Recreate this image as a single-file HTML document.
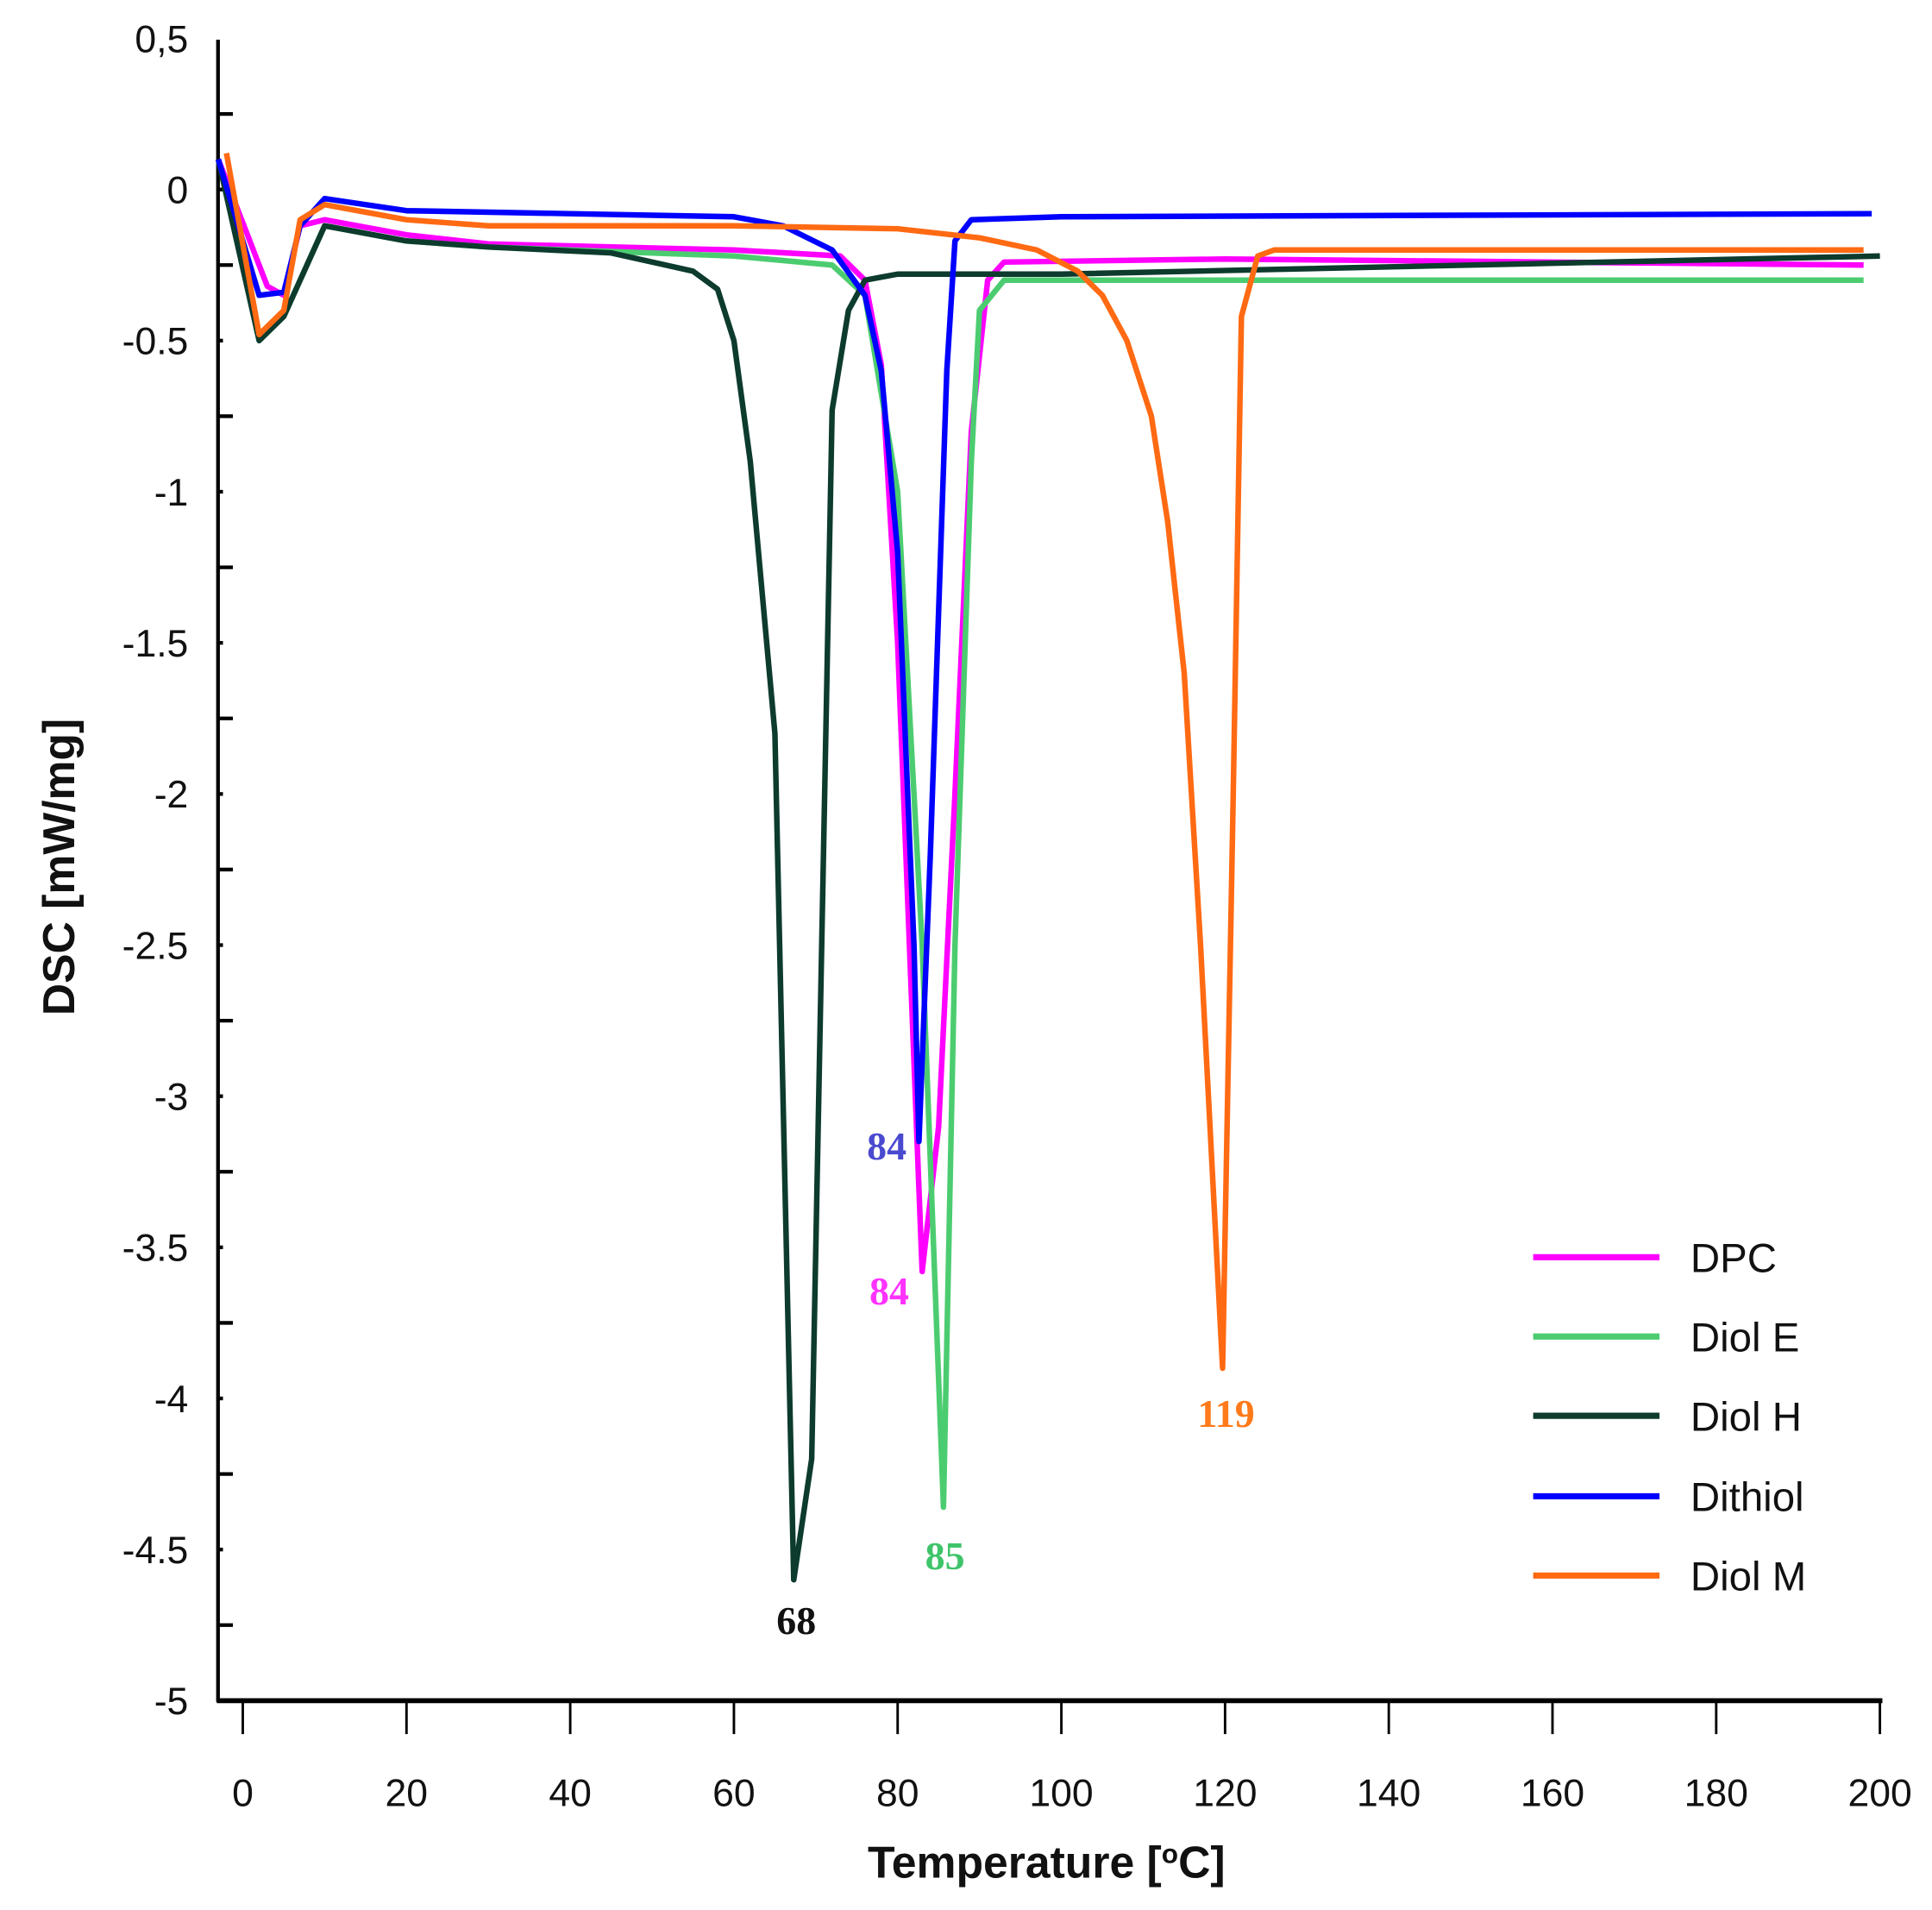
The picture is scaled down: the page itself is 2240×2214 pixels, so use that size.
<!DOCTYPE html>
<html><head><meta charset="utf-8">
<style>html,body{margin:0;padding:0;background:#fff}svg{display:block}</style>
</head><body>
<svg id="s" width="2240" height="2214" viewBox="0 0 1560 1542" xmlns="http://www.w3.org/2000/svg" font-family="Liberation Sans, sans-serif">
<rect width="1560" height="1542" fill="#fff"/>
<g id="ax" stroke="#000"></g>
<g id="lines" fill="none" stroke-width="4.5" stroke-linejoin="round"></g>
<g font-family="Liberation Serif, serif" font-weight="bold" font-size="32" text-anchor="middle">
<text x="716" y="936" fill="#4a4ad0">84</text>
<text x="718" y="1053" fill="#ff33ff">84</text>
<text x="763" y="1267" fill="#3fc46a">85</text>
<text x="643" y="1319" fill="#111">68</text>
<text x="990" y="1152" fill="#ff7a1a">119</text>
</g>
<g font-size="33" fill="#111">
<line x1="1238" y1="1015" x2="1340" y2="1015" stroke="#ff00ff" stroke-width="5"/><text x="1365" y="1027">DPC</text>
<line x1="1238" y1="1079" x2="1340" y2="1079" stroke="#4ccc70" stroke-width="5"/><text x="1365" y="1091">Diol E</text>
<line x1="1238" y1="1143" x2="1340" y2="1143" stroke="#0d3b2e" stroke-width="5"/><text x="1365" y="1155">Diol H</text>
<line x1="1238" y1="1208" x2="1340" y2="1208" stroke="#0000ff" stroke-width="5"/><text x="1365" y="1220">Dithiol</text>
<line x1="1238" y1="1272" x2="1340" y2="1272" stroke="#ff6a13" stroke-width="5"/><text x="1365" y="1284">Diol M</text>
</g>
<text x="845" y="1516" font-size="36" font-weight="bold" text-anchor="middle" fill="#111">Temperature [<tspan font-size="22" dy="-12">o</tspan><tspan dy="12">C]</tspan></text>
<text transform="translate(60,700) rotate(-90)" font-size="36" font-weight="bold" text-anchor="middle" fill="#111">DSC [mW/mg]</text>
</svg>
<script>
const X=t=>196+t*6.61, Y=v=>153-v*244;
const ns="http://www.w3.org/2000/svg";
const ax=document.getElementById('ax');
function el(tag,attrs,par,txt){const e=document.createElementNS(ns,tag);for(const k in attrs)e.setAttribute(k,attrs[k]);if(txt!==undefined)e.textContent=txt;par.appendChild(e);return e;}
el('line',{x1:176,y1:32,x2:176,y2:1374,'stroke-width':3},ax);
el('line',{x1:175,y1:1373,x2:1520,y2:1373,'stroke-width':4},ax);
const svg=document.getElementById('s');
for(let i=0;i<=22;i++){const v=0.5-i*0.25;const y=Y(v);
 if(i%2==1) el('line',{x1:176,y1:y,x2:188,y2:y,'stroke-width':3},ax);
 else if(i>0&&i<22) el('line',{x1:176,y1:y,x2:180,y2:y,'stroke-width':3},ax);
 if(i%2==0){let s=v===0?'0':(i==0?'0,5':String(v).replace(/^(-?\d)$/,'$1'));
  if(i==0)s='0,5';
  el('text',{x:152,y:y+11,'font-size':31,'text-anchor':'end',fill:'#111'},svg,s);}
}
for(let t=0;t<=200;t+=20){const x=X(t);el('line',{x1:x,y1:1373,x2:x,y2:1400,'stroke-width':2},ax);
 el('text',{x:x,y:1458,'font-size':31,'text-anchor':'middle',fill:'#111'},svg,String(t));}
const series=[
['#ff00ff',[[-3,0.1],[3,-0.32],[5,-0.35],[7,-0.12],[10,-0.1],[20,-0.15],[30,-0.18],[60,-0.2],[73,-0.22],[76,-0.3],[78,-0.58],[80,-1.5],[83,-3.58],[85,-3.1],[87,-2],[89,-0.8],[91,-0.3],[93,-0.24],[120,-0.23],[198,-0.25]]],
['#4ccc70',[[-3,0.1],[2,-0.48],[5,-0.42],[10,-0.12],[20,-0.17],[30,-0.19],[60,-0.22],[72,-0.25],[76,-0.35],[80,-1.0],[83,-2.5],[85.6,-4.36],[87,-2.5],[89,-0.9],[90,-0.4],[93,-0.3],[120,-0.3],[198,-0.3]]],
['#0d3b2e',[[-3,0.1],[2,-0.5],[5,-0.42],[10,-0.12],[20,-0.17],[30,-0.19],[45,-0.21],[55,-0.27],[58,-0.33],[60,-0.5],[62,-0.9],[65,-1.8],[67.3,-4.6],[69.5,-4.2],[72,-0.73],[74,-0.4],[76,-0.3],[80,-0.28],[100,-0.28],[200,-0.22]]],
['#0000ff',[[-3,0.1],[2,-0.35],[5,-0.34],[7,-0.12],[10,-0.03],[20,-0.07],[40,-0.08],[60,-0.09],[66,-0.12],[72,-0.2],[76,-0.35],[78,-0.6],[80,-1.2],[82,-2.5],[82.6,-3.15],[84,-2.2],[86,-0.6],[87,-0.17],[89,-0.1],[100,-0.09],[199,-0.08]]],
['#ff6a13',[[-2,0.12],[2,-0.48],[5,-0.4],[7,-0.1],[10,-0.05],[20,-0.1],[30,-0.12],[60,-0.12],[80,-0.13],[90,-0.16],[97,-0.2],[102,-0.27],[105,-0.35],[108,-0.5],[111,-0.75],[113,-1.1],[115,-1.6],[117,-2.5],[119.7,-3.9],[121,-2],[122,-0.42],[124,-0.22],[126,-0.2],[198,-0.2]]]
];
const g=document.getElementById('lines');
for(const [c,pts] of series){el('path',{d:'M'+pts.map(p=>X(p[0]).toFixed(1)+','+Y(p[1]).toFixed(1)).join('L'),stroke:c},g);}
</script>
</body></html>
